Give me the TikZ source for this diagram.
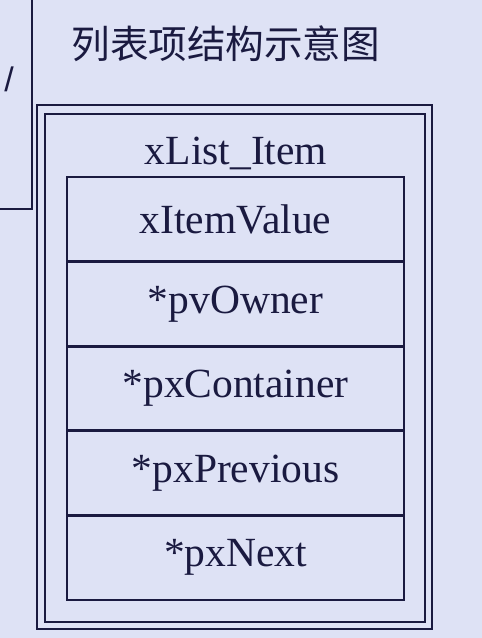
\documentclass[tikz,border=0pt]{standalone}
\usepackage{fontspec}
\setmainfont{Liberation Serif}
\newfontfamily\cjk{Noto Sans CJK SC}
\newfontfamily\slidesans{Liberation Sans}
\definecolor{slidebg}{HTML}{DEE2F5}
\definecolor{ink}{HTML}{1A1A40}

\begin{document}
\begin{tikzpicture}[x=1pt, y=-1pt, line width=2.8pt,
  field/.style={draw=ink, rectangle, minimum width=337pt, minimum height=84.6pt,
    inner sep=0pt, text=ink, font=\fontsize{41.5}{48}\selectfont}]

\fill[slidebg] (0,0) rectangle (482,638);
\useasboundingbox (0,0) rectangle (482,638);

% Cut-off box on the left
\draw[ink, line width=1.4pt] (32,0) -- (32,209) -- (0,209);
\node[text=ink, font=\slidesans\fontsize{34}{40}\selectfont] (slash) at (9,79) {/};

% Title
\node[anchor=west, inner sep=0pt, text=ink, font=\cjk\fontsize{38.6}{44}\selectfont] (title) at (70,44) {列表项结构示意图};

% Double frame
\draw[ink] (37,105) rectangle (432,629);
\draw[ink] (45,114) rectangle (425,622);

\node[text=ink, font=\fontsize{41.5}{48}\selectfont] (item) at (236,153) {xList\_Item};

% Fields
\node[field] (value) at (235.5,219.3) {xItemValue};
\node[field] (owner) at (235.5,303.9) {*pvOwner};
\node[field] (container) at (235.5,388.5) {*pxContainer};
\node[field] (previous) at (235.5,473.1) {*pxPrevious};
\node[field] (next) at (235.5,557.7) {*pxNext};

\end{tikzpicture}
\end{document}
